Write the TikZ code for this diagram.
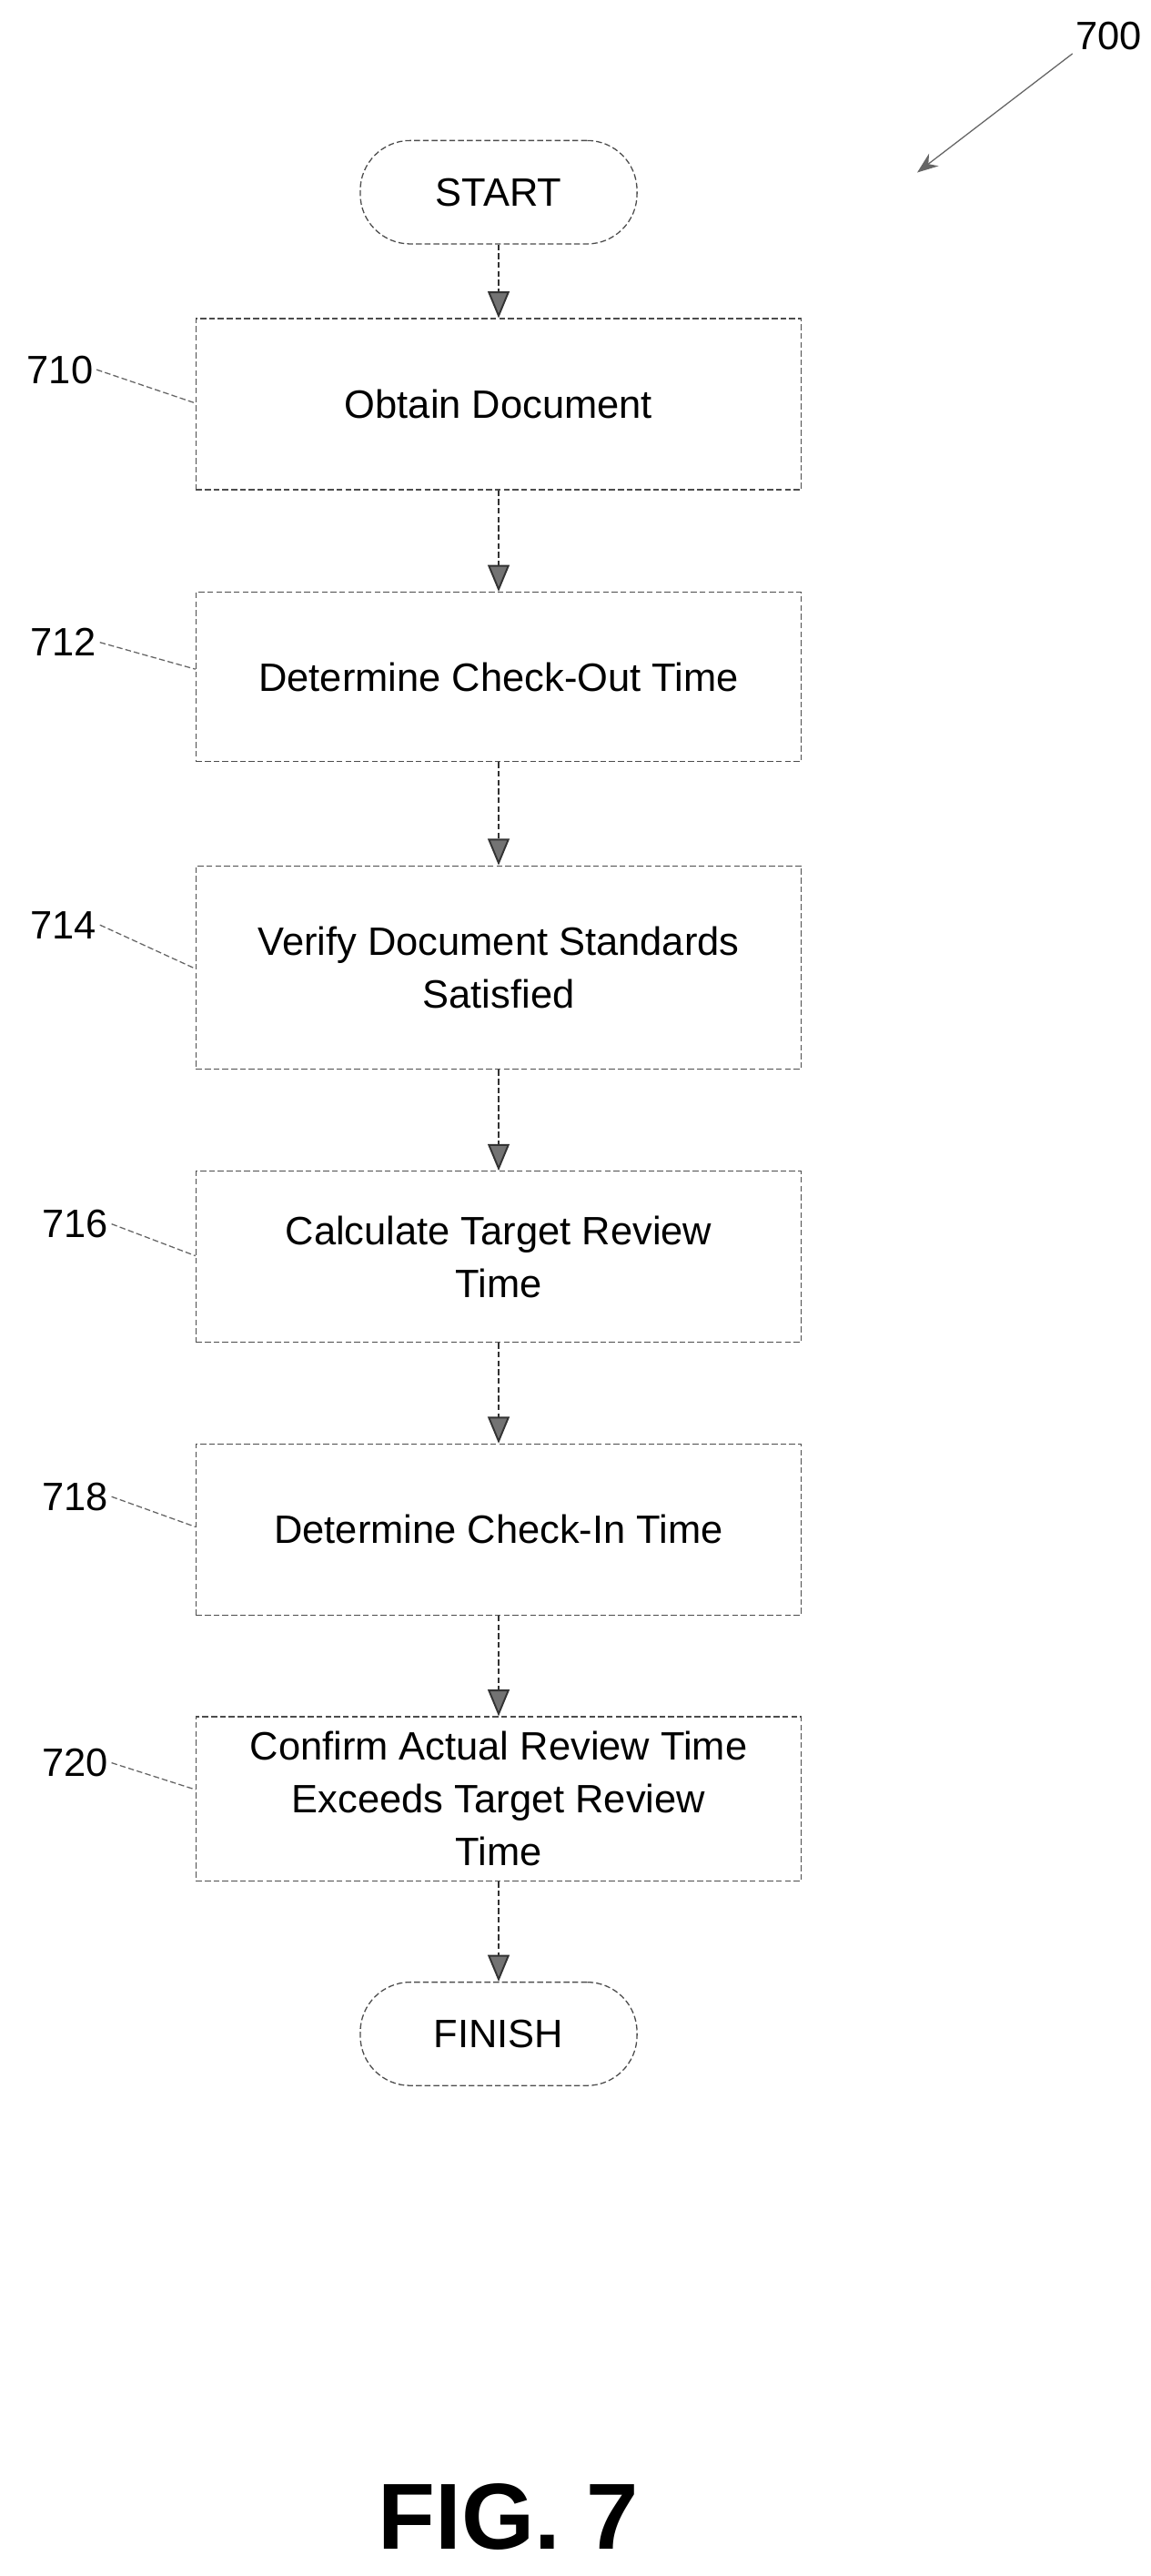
\documentclass[tikz,border=0pt]{standalone}
\usepackage{fontspec}
\setmainfont{Liberation Sans}
\usetikzlibrary{arrows.meta, positioning}
\tikzstyle{stepbox} = [draw=black!70, dashed, dash pattern=on 2pt off 1pt, thin, rectangle, minimum width=7.26cm, align=center, inner sep=2pt, font=\fontsize{13.5}{18}\selectfont]
\tikzstyle{terminal} = [draw=black!70, dashed, dash pattern=on 2pt off 1pt, thin, rounded corners=0.6cm, minimum width=3.32cm, minimum height=1.24cm, font=\fontsize{13.5}{16}\selectfont]
\tikzstyle{flow} = [draw=black!80, dashed, dash pattern=on 2pt off 1pt, semithick, -{Triangle[length=3.2mm, width=2.6mm, fill=black!55]}]
\tikzstyle{refnum} = [font=\fontsize{13.5}{16}\selectfont, inner sep=1pt]
\tikzstyle{leader} = [draw=black!60, dashed, dash pattern=on 2pt off 1pt, thin]

\begin{document}
\begin{tikzpicture}[x=0.02cm, y=-0.0197cm]
    % Frame.
    \useasboundingbox (0, 0) rectangle (690, 1568);

    % Nodes.
    \node (start) [terminal] at (299, 117) {START};
    \node (obtain) [stepbox, minimum height=2.05cm] at (299, 246) {Obtain Document};
    \node (checkout) [stepbox, minimum height=2.03cm] at (299, 412) {Determine Check-Out Time};
    \node (verify) [stepbox, minimum height=2.44cm] at (299, 589) {Verify Document Standards\\Satisfied};
    \node (target) [stepbox, minimum height=2.05cm] at (299, 765) {Calculate Target Review\\Time};
    \node (checkin) [stepbox, minimum height=2.05cm] at (299, 931) {Determine Check-In Time};
    \node (confirm) [stepbox, minimum height=1.97cm] at (299, 1095) {Confirm Actual Review Time\\Exceeds Target Review\\Time};
    \node (finish) [terminal] at (299, 1238) {FINISH};

    \node (fig) [font=\fontsize{32}{36}\selectfont\bfseries] at (305, 1532) {FIG. 7};

    % Reference numbers.
    \node (ref 700) [refnum] at (665, 22) {700};
    \coordinate (ref 700 tip) at (550, 105);
    \draw [draw=black!60, thin, -{Stealth[length=2.5mm]}] (ref 700.south west) -- (ref 700 tip);

    \node (ref 710) [refnum] at (36, 225) {710};
    \node (ref 712) [refnum] at (38, 391) {712};
    \node (ref 714) [refnum] at (38, 563) {714};
    \node (ref 716) [refnum] at (45, 745) {716};
    \node (ref 718) [refnum] at (45, 911) {718};
    \node (ref 720) [refnum] at (45, 1073) {720};

    \draw [leader] (ref 710.east) -- ([yshift=-1.02cm] obtain.north west);
    \draw [leader] (ref 712.east) -- ([yshift=-0.93cm] checkout.north west);
    \draw [leader] (ref 714.east) -- ([yshift=-1.24cm] verify.north west);
    \draw [leader] (ref 716.east) -- ([yshift=-1.02cm] target.north west);
    \draw [leader] (ref 718.east) -- ([yshift=-1.0cm] checkin.north west);
    \draw [leader] (ref 720.east) -- ([yshift=-0.88cm] confirm.north west);

    % Connections.
    \foreach \a/\b in {start/obtain, obtain/checkout, checkout/verify, verify/target, target/checkin, checkin/confirm, confirm/finish} {
        \draw [flow] (\a) -- (\b);
    }
\end{tikzpicture}
\end{document}
